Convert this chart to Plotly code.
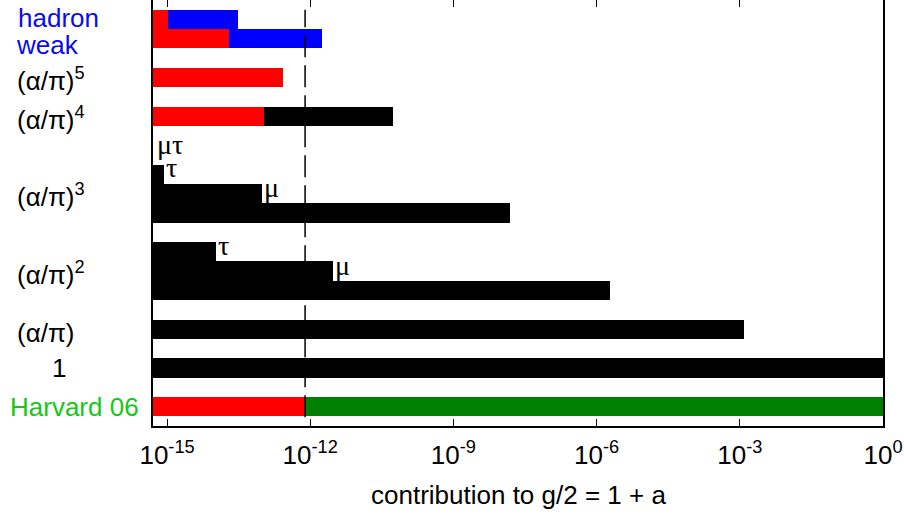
import numpy as np
import plotly.graph_objects as go

# ---- data ----
row_labels = ["hadron", "weak", "(α/π)<sup>5</sup>", "(α/π)<sup>4</sup>",
              "(α/π)<sup>3</sup>", "(α/π)<sup>2</sup>", "(α/π)", "1", "Harvard 06"]
row_label_pos = [20.05, 18.7, 16.9, 14.9, 10.9, 6.9, 3.8, 2.0, 0.0]
row_label_left_px = [16, 14, 15, 15, 15, 15, 15, 50, 8]
row_label_colors = ["#0a0af0", "#0a0af0", "black", "black", "black", "black",
                    "black", "black", "#14c814"]

black_pos = [15, 12, 11, 10, 8, 7, 6, 4, 2]
black_val = [5.35e-11, 8.65e-16, 9.8e-14, 1.55e-8, 1.05e-14, 2.94e-12, 1.87e-6, 1.21e-3, 1.0]

blue_pos = [20, 19]
blue_val = [3.1e-14, 1.76e-12]

green_pos = [0]
green_val = [1.0]

red_pos = [20, 19, 17, 15, 0]
red_val = [1.05e-15, 2.0e-14, 2.67e-13, 1.07e-13, 7.8e-13]

# lepton-loop markers: text, bar value it sits after, y position
greek_text = ["μτ", "τ", "μ", "τ", "μ"]
greek_val = [5.6e-16, 8.65e-16, 9.8e-14, 1.05e-14, 2.94e-12]
greek_y = [13.55, 12.35, 11.3, 8.3, 7.3]

harvard_unc = 7.8e-13
dash_y = [-0.55, 20.5]

tick_vals = [1e-15, 1e-12, 1e-9, 1e-6, 1e-3, 1]
tick_text = ["10<sup>-15</sup>", "10<sup>-12</sup>", "10<sup>-9</sup>",
             "10<sup>-6</sup>", "10<sup>-3</sup>", "10<sup>0</sup>"]
x_title = "contribution to g/2 = 1 + a"

# ---- figure ----
BASE = 1e-18
FONT = "Liberation Sans, Arial, Helvetica, sans-serif"
fig = go.Figure()


def add_bars(pos, val, color):
    fig.add_trace(go.Bar(
        x=val, y=pos, base=[BASE] * len(val), orientation="h", width=1.0,
        marker=dict(color=color, line=dict(width=0)), showlegend=False,
        hoverinfo="skip"))


add_bars(black_pos, black_val, "black")
add_bars(blue_pos, blue_val, "#0000ff")
add_bars(green_pos, green_val, "#008000")
add_bars(red_pos, red_val, "#ff0000")

fig.add_trace(go.Scatter(
    x=[harvard_unc, harvard_unc], y=dash_y, mode="lines",
    line=dict(color="black", width=1.5, dash="22px,8px"),
    showlegend=False, hoverinfo="skip"))

L, R, T, B = 153, 21, 0, 95
PW = 904 - L - R

annotations = []
for txt, y, xl, col in zip(row_labels, row_label_pos, row_label_left_px, row_label_colors):
    annotations.append(dict(
        text=txt, xref="paper", yref="y", x=(xl - L) / PW, y=y,
        xanchor="left", yanchor="middle", showarrow=False,
        font=dict(family=FONT, size=26, color=col)))

for txt, v, y in zip(greek_text, greek_val, greek_y):
    annotations.append(dict(
        text=txt, xref="x", yref="y", x=np.log10(v), y=y,
        xanchor="left", yanchor="middle", showarrow=False, xshift=0,
        font=dict(family="Liberation Serif, DejaVu Serif, serif", size=28, color="black")))

annotations.append(dict(
    text=x_title, xref="paper", yref="paper", x=0.5, y=-(495 - 426) / 426,
    xanchor="center", yanchor="middle", showarrow=False,
    font=dict(family=FONT, size=26, color="black")))

fig.update_layout(
    width=904, height=521,
    margin=dict(l=L, r=R, t=T, b=B, autoexpand=False),
    paper_bgcolor="white", plot_bgcolor="white",
    barmode="overlay", bargap=0,
    annotations=annotations,
    xaxis=dict(
        type="log", range=[np.log10(5.08e-16), 0],
        tickvals=tick_vals, ticktext=tick_text,
        ticks="inside", ticklen=7, tickwidth=1, tickcolor="black",
        showline=True, linecolor="black", linewidth=1.5, mirror="ticks",
        showgrid=False, zeroline=False, ticklabelstandoff=5,
        tickfont=dict(family=FONT, size=26, color="black"),
        automargin=False),
    yaxis=dict(
        range=[-1, 21], showticklabels=False, ticks="",
        showline=True, linecolor="black", linewidth=1.5, mirror=True,
        showgrid=False, zeroline=False, automargin=False),
)

fig.write_html("out.html")
